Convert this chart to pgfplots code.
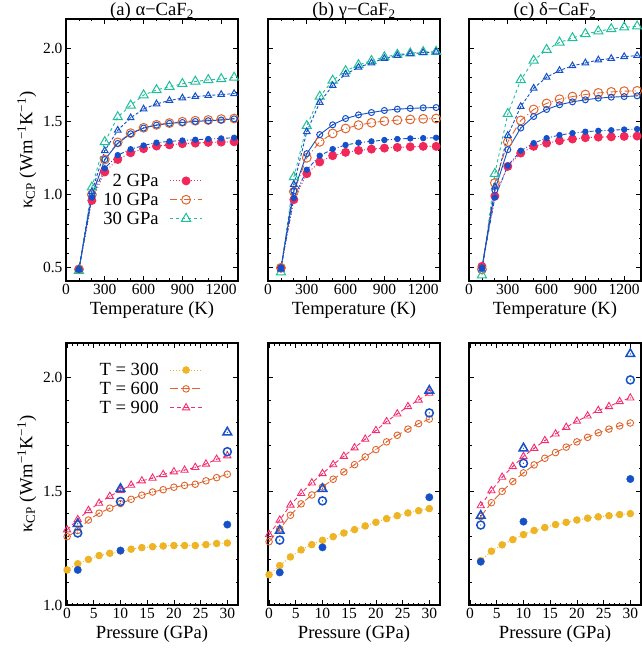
\documentclass[border=0pt]{standalone}
\usepackage{fontspec}
\setmainfont{Liberation Serif}
\usepackage{pgfplots}
\pgfplotsset{compat=1.18}
\definecolor{cred}{HTML}{F2285A}
\definecolor{corg}{HTML}{E0652D}
\definecolor{cgrn}{HTML}{1FBF9B}
\definecolor{cblu}{HTML}{1450C8}
\definecolor{cgld}{HTML}{EEB425}
\definecolor{cpnk}{HTML}{F52D6E}
\pgfdeclareplotmark{odot}{\pgfpathcircle{\pgfpointorigin}{\pgfplotmarksize}\pgfusepathqstroke
  \pgfpathcircle{\pgfpointorigin}{0.7pt}\pgfusepathqfill}
\pgfdeclareplotmark{tdot}{\pgfpathmoveto{\pgfpointpolar{90}{\pgfplotmarksize}}%
  \pgfpathlineto{\pgfpointpolar{210}{\pgfplotmarksize}}%
  \pgfpathlineto{\pgfpointpolar{330}{\pgfplotmarksize}}\pgfpathclose\pgfusepathqstroke
  \pgfpathcircle{\pgfpointorigin}{0.7pt}\pgfusepathqfill}
\newcommand{\bigf}{\fontsize{18.6}{20}\selectfont}
\pgfplotsset{
 base/.style={scale only axis, width=172pt, height=262pt, anchor=south west,
  tick align=inside, major tick length=5pt, minor tick length=2.5pt,
  every tick/.style={black, line width=0.8pt},
  axis line style={line width=1.1pt},
  tick label style={font=\fontsize{15.5}{16}\selectfont},
  label style={font=\bigf},
  every axis title shift=0pt,
  title style={font=\bigf, anchor=base, yshift=3.3pt},
  /pgf/number format/assume math mode=true,
  scaled x ticks=false,
  xticklabel style={/pgf/number format/1000 sep={}},
  yticklabel style={/pgf/number format/.cd, fixed, fixed zerofill, precision=1},
  legend style={draw=none, fill=none, font=\bigf, inner sep=0pt, row sep=3pt,
    nodes={inner sep=1pt},
    /tikz/every odd column/.append style={column sep=10pt}},
  legend cell align=right, legend plot pos=right,
  legend image code/.code={\draw[mark repeat=2,mark phase=2,##1] plot coordinates {(0pt,0pt)(16pt,0pt)(32pt,0pt)};},
 },
 topax/.style={base, xmin=0, xmax=1330, ymin=0.41, ymax=2.2, xtick={0,300,...,1200},
  minor x tick num=2, ytick={0.5,1.0,1.5,2.0}, minor y tick num=4, xlabel={Temperature (K)}},
 botax/.style={base, xmin=-0.2, xmax=32, ymin=1.0, ymax=2.15, xtick={0,5,...,30},
  minor x tick num=4, ytick={1.0,1.5,2.0}, minor y tick num=4, xlabel={Pressure (GPa)}},
 sred/.style={color=cred, line width=0.9pt, dash pattern=on 1pt off 2pt, mark=*, mark size=4pt, mark options={solid, fill=cred}},
 sorg/.style={color=corg, line width=0.9pt, dash pattern=on 7pt off 3pt on 1pt off 3pt, mark=o, mark size=4.4pt, mark options={solid, line width=1pt}},
 sgrn/.style={color=cgrn, line width=0.9pt, dash pattern=on 3pt off 3pt, mark=triangle, mark size=5.3pt, mark options={solid, line width=1pt}},
 sbf/.style={color=cblu, line width=0.9pt, dash pattern=on 4pt off 2pt on 1pt off 2pt, mark=*, mark size=2.7pt, mark options={solid, fill=cblu}},
 sbo/.style={color=cblu, line width=0.9pt, mark=odot, mark size=3pt, mark options={solid, line width=1pt}},
 sbt/.style={color=cblu, line width=0.9pt, dash pattern=on 3pt off 2pt, mark=tdot, mark size=3.8pt, mark options={solid, line width=1pt}},
 sgld/.style={color=cgld, line width=0.9pt, dash pattern=on 1pt off 2pt, mark=*, mark size=3.3pt, mark options={solid, fill=cgld}},
 sor2/.style={color=corg, line width=0.9pt, dash pattern=on 8pt off 3pt, mark=odot, mark size=3.3pt, mark options={solid, line width=0.9pt}},
 spnk/.style={color=cpnk, line width=0.9pt, dash pattern=on 4pt off 3pt, mark=tdot, mark size=4.2pt, mark options={solid, line width=0.9pt}},
 pbf/.style={color=cblu, only marks, mark=*, mark size=3.7pt, mark options={fill=cblu}},
 pbo/.style={color=cblu, only marks, mark=odot, mark size=4pt, mark options={line width=1.5pt}},
 pbt/.style={color=cblu, only marks, mark=tdot, mark size=5pt, mark options={line width=1.5pt}},
}
\begin{document}
\begin{tikzpicture}
\path[use as bounding box] (0pt,0pt) rectangle (642pt,649pt);
% ---------- top (a)
\begin{axis}[topax, at={(66pt,368pt)}, title={(a) α−CaF\textsubscript{2}},
  ylabel={κ\textsubscript{CP} (Wm\textsuperscript{−1}K\textsuperscript{−1})},
  legend style={at={(0.795,0.413)}, anchor=north east}]
\addplot[sred] coordinates {(100,0.49)(200,0.96)(300,1.155)(400,1.24)(500,1.286)(600,1.314)(700,1.332)(800,1.34)(900,1.348)(1000,1.352)(1100,1.357)(1200,1.359)(1300,1.361)};
\addlegendentry{2 GPa}
\addplot[sorg] coordinates {(100,0.49)(200,1.0)(300,1.24)(400,1.357)(500,1.42)(600,1.457)(700,1.477)(800,1.489)(900,1.498)(1000,1.505)(1100,1.51)(1200,1.516)(1300,1.52)};
\addlegendentry{10 GPa}
\addplot[sgrn] coordinates {(100,0.48)(200,1.05)(300,1.36)(400,1.53)(500,1.61)(600,1.68)(700,1.715)(800,1.738)(900,1.757)(1000,1.773)(1100,1.784)(1200,1.79)(1300,1.8)};
\addlegendentry{30 GPa}
\addplot[sbf, forget plot] coordinates {(100,0.49)(200,0.98)(300,1.18)(400,1.27)(500,1.31)(600,1.336)(700,1.355)(800,1.364)(900,1.37)(1000,1.375)(1100,1.38)(1200,1.384)(1300,1.389)};
\addplot[sbo, forget plot] coordinates {(100,0.49)(200,0.99)(300,1.24)(400,1.35)(500,1.416)(600,1.455)(700,1.475)(800,1.487)(900,1.493)(1000,1.5)(1100,1.505)(1200,1.51)(1300,1.518)};
\addplot[sbt, forget plot] coordinates {(100,0.49)(200,1.02)(300,1.3)(400,1.44)(500,1.525)(600,1.585)(700,1.62)(800,1.643)(900,1.66)(1000,1.67)(1100,1.677)(1200,1.684)(1300,1.69)};
\end{axis}
% ---------- top (b)
\begin{axis}[topax, at={(268pt,368pt)}, title={(b) γ−CaF\textsubscript{2}}, yticklabels={}]
\addplot[sred] coordinates {(100,0.5)(200,0.966)(300,1.143)(400,1.223)(500,1.266)(600,1.289)(700,1.302)(800,1.311)(900,1.318)(1000,1.323)(1100,1.327)(1200,1.33)(1300,1.33)};
\addplot[sorg] coordinates {(100,0.5)(200,1.02)(300,1.252)(400,1.361)(500,1.418)(600,1.452)(700,1.475)(800,1.491)(900,1.502)(1000,1.509)(1100,1.514)(1200,1.518)(1300,1.52)};
\addplot[sgrn] coordinates {(100,0.47)(200,1.12)(300,1.47)(400,1.67)(500,1.78)(600,1.845)(700,1.886)(800,1.914)(900,1.94)(1000,1.957)(1100,1.966)(1200,1.975)(1300,1.977)};
\addplot[sbf] coordinates {(100,0.5)(200,0.977)(300,1.17)(400,1.266)(500,1.311)(600,1.339)(700,1.355)(800,1.364)(900,1.373)(1000,1.38)(1100,1.384)(1200,1.386)(1300,1.389)};
\addplot[sbo] coordinates {(100,0.5)(200,1.025)(300,1.28)(400,1.41)(500,1.477)(600,1.52)(700,1.545)(800,1.561)(900,1.575)(1000,1.584)(1100,1.589)(1200,1.593)(1300,1.595)};
\addplot[sbt] coordinates {(100,0.49)(200,1.07)(300,1.43)(400,1.63)(500,1.745)(600,1.823)(700,1.87)(800,1.9)(900,1.93)(1000,1.95)(1100,1.962)(1200,1.97)(1300,1.974)};
\end{axis}
% ---------- top (c)
\begin{axis}[topax, at={(469pt,368pt)}, title={(c) δ−CaF\textsubscript{2}}, yticklabels={}]
\addplot[sred] coordinates {(100,0.51)(200,0.99)(300,1.193)(400,1.284)(500,1.33)(600,1.352)(700,1.368)(800,1.38)(900,1.389)(1000,1.393)(1100,1.395)(1200,1.398)(1300,1.4)};
\addplot[sorg] coordinates {(100,0.49)(200,1.08)(300,1.36)(400,1.507)(500,1.582)(600,1.623)(700,1.652)(800,1.67)(900,1.684)(1000,1.695)(1100,1.702)(1200,1.707)(1300,1.709)};
\addplot[sgrn] coordinates {(100,0.45)(200,1.143)(300,1.552)(400,1.784)(500,1.916)(600,1.99)(700,2.04)(800,2.07)(900,2.098)(1000,2.116)(1100,2.132)(1200,2.143)(1300,2.15)};
\addplot[sbf] coordinates {(100,0.5)(200,0.98)(300,1.198)(400,1.3)(500,1.352)(600,1.386)(700,1.407)(800,1.42)(900,1.43)(1000,1.436)(1100,1.44)(1200,1.445)(1300,1.448)};
\addplot[sbo] coordinates {(100,0.5)(200,1.03)(300,1.307)(400,1.455)(500,1.534)(600,1.582)(700,1.614)(800,1.634)(900,1.648)(1000,1.659)(1100,1.666)(1200,1.67)(1300,1.675)};
\addplot[sbt] coordinates {(100,0.49)(200,1.052)(300,1.405)(400,1.602)(500,1.727)(600,1.802)(700,1.848)(800,1.88)(900,1.9)(1000,1.92)(1100,1.93)(1200,1.943)(1300,1.95)};
\end{axis}
% ---------- bottom (a)
\begin{axis}[botax, at={(66pt,44pt)},
  ylabel={κ\textsubscript{CP} (Wm\textsuperscript{−1}K\textsuperscript{−1})},
  legend style={at={(0.795,0.928)}, anchor=north east}]
\addplot[sgld] coordinates {(0,1.154)(2,1.181)(4,1.2)(6,1.217)(8,1.227)(10,1.237)(12,1.245)(14,1.252)(16,1.256)(18,1.259)(20,1.261)(22,1.261)(24,1.261)(26,1.265)(28,1.27)(30,1.272)};
\addlegendentry{T = 300}
\addplot[sor2] coordinates {(0,1.3)(2,1.327)(4,1.373)(6,1.403)(8,1.425)(10,1.445)(12,1.464)(14,1.482)(16,1.496)(18,1.506)(20,1.517)(22,1.525)(24,1.53)(26,1.545)(28,1.559)(30,1.574)};
\addlegendentry{T = 600}
\addplot[spnk] coordinates {(0,1.33)(2,1.375)(4,1.415)(6,1.447)(8,1.477)(10,1.503)(12,1.526)(14,1.545)(16,1.557)(18,1.573)(20,1.585)(22,1.592)(24,1.604)(26,1.619)(28,1.64)(30,1.655)};
\addlegendentry{T = 900}
\addplot[pbf, forget plot] coordinates {(2,1.154)(10,1.239)(30,1.353)};
\addplot[pbo, forget plot] coordinates {(2,1.316)(10,1.454)(30,1.673)};
\addplot[pbt, forget plot] coordinates {(2,1.356)(10,1.51)(30,1.758)};
\end{axis}
% ---------- bottom (b)
\begin{axis}[botax, at={(268pt,44pt)}, yticklabels={}]
\addplot[sgld] coordinates {(0,1.133)(2,1.173)(4,1.211)(6,1.242)(8,1.265)(10,1.284)(12,1.3)(14,1.316)(16,1.331)(18,1.347)(20,1.363)(22,1.379)(24,1.392)(26,1.404)(28,1.414)(30,1.423)};
\addplot[sor2] coordinates {(0,1.278)(2,1.334)(4,1.394)(6,1.444)(8,1.483)(10,1.518)(12,1.552)(14,1.584)(16,1.616)(18,1.65)(20,1.682)(22,1.716)(24,1.745)(26,1.772)(28,1.796)(30,1.816)};
\addplot[spnk] coordinates {(0,1.309)(2,1.373)(4,1.439)(6,1.49)(8,1.536)(10,1.577)(12,1.616)(14,1.653)(16,1.69)(18,1.728)(20,1.766)(22,1.805)(24,1.839)(26,1.871)(28,1.9)(30,1.93)};
\addplot[pbf] coordinates {(2,1.143)(10,1.253)(30,1.473)};
\addplot[pbo] coordinates {(2,1.285)(10,1.457)(30,1.843)};
\addplot[pbt] coordinates {(2,1.326)(10,1.51)(30,1.941)};
\end{axis}
% ---------- bottom (c)
\begin{axis}[botax, at={(469pt,44pt)}, yticklabels={}]
\addplot[sgld] coordinates {(2,1.195)(4,1.236)(6,1.264)(8,1.287)(10,1.309)(12,1.327)(14,1.34)(16,1.353)(18,1.363)(20,1.373)(22,1.381)(24,1.387)(26,1.392)(28,1.397)(30,1.401)};
\addplot[sor2] coordinates {(2,1.388)(4,1.449)(6,1.499)(8,1.542)(10,1.58)(12,1.615)(14,1.644)(16,1.669)(18,1.693)(20,1.716)(22,1.736)(24,1.756)(26,1.772)(28,1.786)(30,1.799)};
\addplot[spnk] coordinates {(2,1.436)(4,1.502)(6,1.561)(8,1.608)(10,1.652)(12,1.688)(14,1.722)(16,1.751)(18,1.78)(20,1.807)(22,1.83)(24,1.854)(26,1.871)(28,1.893)(30,1.909)};
\addplot[pbf] coordinates {(2,1.19)(10,1.366)(30,1.553)};
\addplot[pbo] coordinates {(2,1.351)(10,1.622)(30,1.988)};
\addplot[pbt] coordinates {(2,1.392)(10,1.688)(30,2.102)};
\end{axis}
\end{tikzpicture}
\end{document}
